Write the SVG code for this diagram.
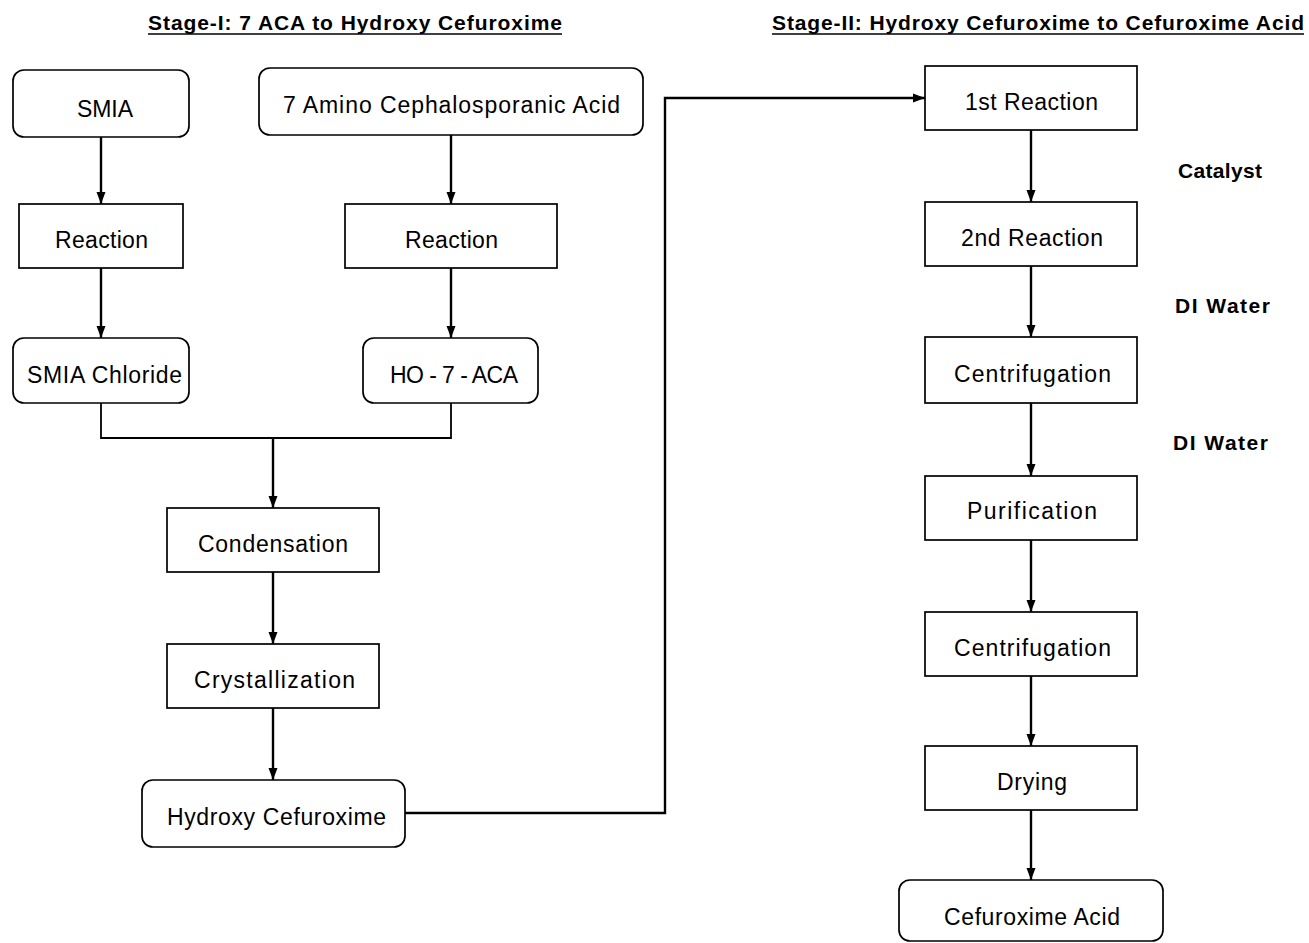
<svg xmlns="http://www.w3.org/2000/svg" width="1309" height="943" viewBox="0 0 1309 943">
<style>
.box{fill:#fff;stroke:#000;stroke-width:1.7}
.lbl{font-family:"Liberation Sans",Arial,sans-serif;font-size:23px;fill:#000}
.bold{font-family:"Liberation Sans",Arial,sans-serif;font-size:21px;font-weight:bold;fill:#000}
.title{font-family:"Liberation Sans",Arial,sans-serif;font-size:21px;font-weight:bold;fill:#000}
.uline{stroke:#000;stroke-width:1.7}
.conn{fill:none;stroke:#000;stroke-width:2.4}
</style>
<defs>
<marker id="arr" markerUnits="userSpaceOnUse" markerWidth="12" markerHeight="12" viewBox="0 0 12 12" refX="12" refY="6" orient="auto">
<path d="M0,1.5 L12,6 L0,10.5 Z" fill="#000"/>
</marker>
</defs>
<rect width="1309" height="943" fill="#fff"/>
<g id="titles">
<text class="title" x="148" y="30" textLength="414">Stage-I: 7 ACA to Hydroxy Cefuroxime</text>
<line class="uline" x1="148" y1="34" x2="562" y2="34"/>
<text class="title" x="772" y="30" textLength="532">Stage-II: Hydroxy Cefuroxime to Cefuroxime Acid</text>
<line class="uline" x1="772" y1="34" x2="1304" y2="34"/>
</g>
<g id="connectors">
<line class="conn" x1="101" y1="137" x2="101" y2="204" marker-end="url(#arr)"/>
<line class="conn" x1="101" y1="268" x2="101" y2="338" marker-end="url(#arr)"/>
<line class="conn" x1="451" y1="135" x2="451" y2="204" marker-end="url(#arr)"/>
<line class="conn" x1="451" y1="268" x2="451" y2="338" marker-end="url(#arr)"/>
<polyline class="conn" points="101,403 101,438 451,438 451,403" style="stroke-width:1.8"/>
<line class="conn" x1="273" y1="438" x2="273" y2="508" marker-end="url(#arr)"/>
<line class="conn" x1="273" y1="572" x2="273" y2="644" marker-end="url(#arr)"/>
<line class="conn" x1="273" y1="708" x2="273" y2="780" marker-end="url(#arr)"/>
<polyline class="conn" points="405,813 665,813 665,98 925,98" marker-end="url(#arr)"/>
<line class="conn" x1="1031" y1="130" x2="1031" y2="202" marker-end="url(#arr)"/>
<line class="conn" x1="1031" y1="266" x2="1031" y2="337" marker-end="url(#arr)"/>
<line class="conn" x1="1031" y1="403" x2="1031" y2="476" marker-end="url(#arr)"/>
<line class="conn" x1="1031" y1="540" x2="1031" y2="612" marker-end="url(#arr)"/>
<line class="conn" x1="1031" y1="676" x2="1031" y2="746" marker-end="url(#arr)"/>
<line class="conn" x1="1031" y1="810" x2="1031" y2="880" marker-end="url(#arr)"/>
</g>
<g id="smia"><rect class="box" x="13" y="70" width="176" height="67" rx="11"/><text class="lbl" x="77" y="117" textLength="56">SMIA</text></g>
<g id="aca7"><rect class="box" x="259" y="68" width="384" height="67" rx="11"/><text class="lbl" x="283" y="113" textLength="337">7 Amino Cephalosporanic Acid</text></g>
<g id="reaction-left"><rect class="box" x="19" y="204" width="164" height="64"/><text class="lbl" x="55" y="248" textLength="93">Reaction</text></g>
<g id="reaction-right"><rect class="box" x="345" y="204" width="212" height="64"/><text class="lbl" x="405" y="248" textLength="93">Reaction</text></g>
<g id="smia-chloride"><rect class="box" x="13" y="338" width="176" height="65" rx="11"/><text class="lbl" x="27" y="383" textLength="155">SMIA Chloride</text></g>
<g id="ho-7-aca"><rect class="box" x="363" y="338" width="175" height="65" rx="11"/><text class="lbl" x="390" y="383" textLength="128">HO - 7 - ACA</text></g>
<g id="condensation"><rect class="box" x="167" y="508" width="212" height="64"/><text class="lbl" x="198" y="552" textLength="150">Condensation</text></g>
<g id="crystallization"><rect class="box" x="167" y="644" width="212" height="64"/><text class="lbl" x="194" y="688" textLength="161">Crystallization</text></g>
<g id="hydroxy-cefuroxime"><rect class="box" x="142" y="780" width="263" height="67" rx="11"/><text class="lbl" x="167" y="825" textLength="219">Hydroxy Cefuroxime</text></g>
<g id="reaction1"><rect class="box" x="925" y="66" width="212" height="64"/><text class="lbl" x="965" y="110" textLength="133">1st Reaction</text></g>
<g id="catalyst"><text class="bold" x="1178" y="178" textLength="84">Catalyst</text></g>
<g id="reaction2"><rect class="box" x="925" y="202" width="212" height="64"/><text class="lbl" x="961" y="246" textLength="142">2nd Reaction</text></g>
<g id="di-water-1"><text class="bold" x="1175" y="313" textLength="95">DI Water</text></g>
<g id="centrifugation1"><rect class="box" x="925" y="337" width="212" height="66"/><text class="lbl" x="954" y="382" textLength="157">Centrifugation</text></g>
<g id="di-water-2"><text class="bold" x="1173" y="450" textLength="95">DI Water</text></g>
<g id="purification"><rect class="box" x="925" y="476" width="212" height="64"/><text class="lbl" x="967" y="519" textLength="130">Purification</text></g>
<g id="centrifugation2"><rect class="box" x="925" y="612" width="212" height="64"/><text class="lbl" x="954" y="656" textLength="157">Centrifugation</text></g>
<g id="drying"><rect class="box" x="925" y="746" width="212" height="64"/><text class="lbl" x="997" y="790" textLength="70">Drying</text></g>
<g id="cefuroxime-acid"><rect class="box" x="899" y="880" width="264" height="61" rx="11"/><text class="lbl" x="944" y="925" textLength="176">Cefuroxime Acid</text></g>
</svg>
